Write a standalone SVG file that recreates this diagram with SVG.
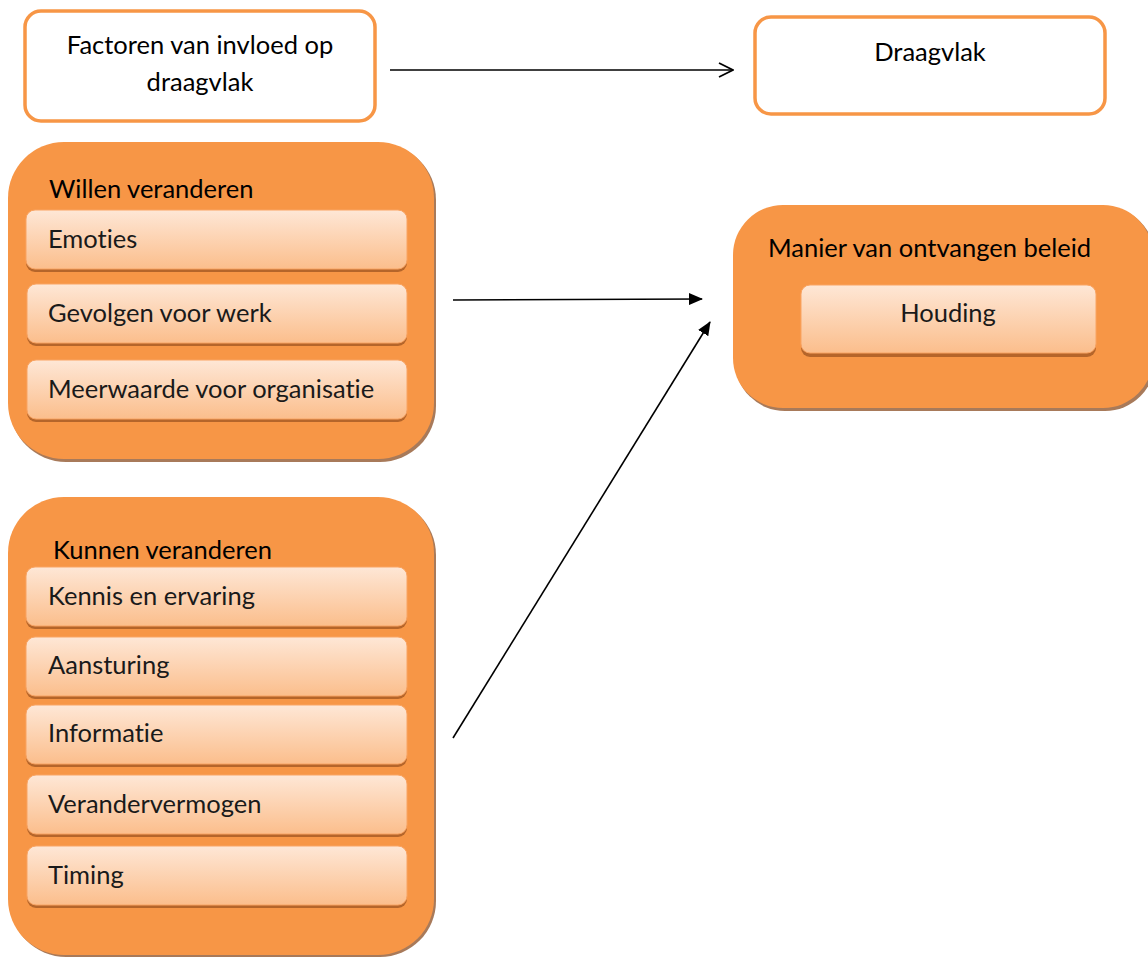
<svg xmlns="http://www.w3.org/2000/svg" width="1148" height="957" viewBox="0 0 1148 957">
  <defs>
    <linearGradient id="itemFill" x1="0" y1="0" x2="0" y2="1">
      <stop offset="0" stop-color="#FEE7D6"/>
      <stop offset="1" stop-color="#FBBE8C"/>
    </linearGradient>
    <marker id="openHead" viewBox="0 0 16 16" refX="15" refY="8" markerWidth="16" markerHeight="16" markerUnits="userSpaceOnUse" orient="auto">
      <path d="M1,1 L15,8 L1,15" fill="none" stroke="#000" stroke-width="1.8"/>
    </marker>
    <marker id="solidHead" viewBox="0 0 14 12" refX="13" refY="6" markerWidth="14" markerHeight="12" markerUnits="userSpaceOnUse" orient="auto">
      <path d="M0,0 L14,6 L0,12 Z" fill="#000"/>
    </marker>
  </defs>
  <style>
    text { font-family: Lato, "Liberation Sans", sans-serif; fill: #000; font-variant-ligatures: none; font-size: 25.5px; }
    .plain { fill: #fff; stroke: #F79646; stroke-width: 3.5; }
    .group { fill: #F79646; }
    .groupShadow { fill: #A87A5A; }
    .item { fill: url(#itemFill); stroke: #F9A463; stroke-width: 1; }
    .itemShadow { fill: #B5652A; }
    .label { fill: #1a1a1a; }
    .conn { stroke: #000; stroke-width: 1.6; fill: none; }
  </style>

  <g id="factoren">
    <rect class="plain" x="25" y="11" width="350" height="110" rx="16"/>
    <text x="200" y="54" text-anchor="middle">Factoren van invloed op</text>
    <text x="200" y="91" text-anchor="middle">draagvlak</text>
  </g>

  <g id="draagvlak">
    <rect class="plain" x="755" y="17" width="350" height="97" rx="16"/>
    <text x="930" y="61" text-anchor="middle">Draagvlak</text>
  </g>

  <g id="willen">
    <rect class="groupShadow" x="10" y="144" width="426" height="318" rx="56"/>
    <rect class="group" x="8" y="142" width="426" height="317" rx="56"/>
    <text x="49" y="198">Willen veranderen</text>
    <g id="emoties">
      <rect class="itemShadow" x="26" y="212" width="381" height="60" rx="9"/>
      <rect class="item" x="26" y="210" width="381" height="59" rx="9"/>
      <text x="48" y="248" class="label">Emoties</text>
    </g>
    <g id="gevolgen">
      <rect class="itemShadow" x="27" y="286" width="380" height="60" rx="9"/>
      <rect class="item" x="27" y="284" width="380" height="59" rx="9"/>
      <text x="48" y="322" class="label">Gevolgen voor werk</text>
    </g>
    <g id="meerwaarde">
      <rect class="itemShadow" x="27" y="362" width="380" height="60" rx="9"/>
      <rect class="item" x="27" y="360" width="380" height="59" rx="9"/>
      <text x="48" y="398" class="label">Meerwaarde voor organisatie</text>
    </g>
  </g>

  <g id="kunnen">
    <rect class="groupShadow" x="10" y="499" width="426" height="458" rx="56"/>
    <rect class="group" x="8" y="497" width="426" height="458" rx="56"/>
    <text x="53" y="559">Kunnen veranderen</text>
    <g id="kennis">
      <rect class="itemShadow" x="26" y="569" width="381" height="60" rx="9"/>
      <rect class="item" x="26" y="567" width="381" height="59" rx="9"/>
      <text x="48" y="605" class="label">Kennis en ervaring</text>
    </g>
    <g id="aansturing">
      <rect class="itemShadow" x="26" y="639" width="381" height="60" rx="9"/>
      <rect class="item" x="26" y="637" width="381" height="59" rx="9"/>
      <text x="48" y="674" class="label">Aansturing</text>
    </g>
    <g id="informatie">
      <rect class="itemShadow" x="26" y="707" width="381" height="60" rx="9"/>
      <rect class="item" x="26" y="705" width="381" height="59" rx="9"/>
      <text x="48" y="742" class="label">Informatie</text>
    </g>
    <g id="verandervermogen">
      <rect class="itemShadow" x="27" y="777" width="380" height="60" rx="9"/>
      <rect class="item" x="27" y="775" width="380" height="59" rx="9"/>
      <text x="48" y="813" class="label">Verandervermogen</text>
    </g>
    <g id="timing">
      <rect class="itemShadow" x="27" y="848" width="380" height="60" rx="9"/>
      <rect class="item" x="27" y="846" width="380" height="59" rx="9"/>
      <text x="48" y="884" class="label">Timing</text>
    </g>
  </g>

  <g id="manier">
    <rect class="groupShadow" x="735" y="207" width="420" height="204" rx="50"/>
    <rect class="group" x="733" y="205" width="420" height="203" rx="50"/>
    <text x="768" y="257">Manier van ontvangen beleid</text>
    <g id="houding">
      <rect class="itemShadow" x="801" y="287" width="295" height="70" rx="9"/>
      <rect class="item" x="801" y="285" width="295" height="68" rx="9"/>
      <text x="948" y="322" text-anchor="middle" class="label">Houding</text>
    </g>
  </g>

  <g id="connectors">
    <line class="conn" x1="390" y1="70" x2="733" y2="70" marker-end="url(#openHead)"/>
    <line class="conn" x1="453" y1="300" x2="702" y2="299" marker-end="url(#solidHead)"/>
    <line class="conn" x1="453" y1="738" x2="710" y2="322" marker-end="url(#solidHead)"/>
  </g>
</svg>
